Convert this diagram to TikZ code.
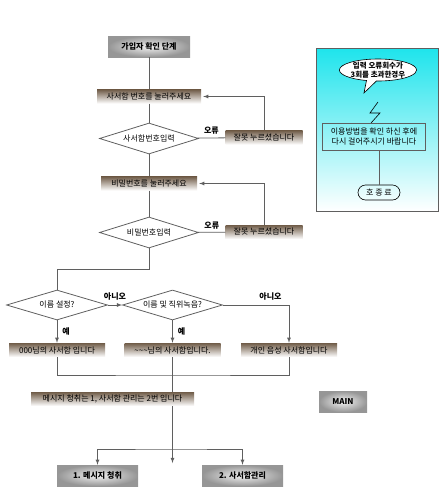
\documentclass[tikz,border=0pt]{standalone}
\usepackage{fontspec}
\setmainfont{Noto Sans CJK KR}
\usepackage{xcolor}
\usepackage{tikz}
\usetikzlibrary{shapes.geometric, shapes.misc, shapes.callouts, arrows, positioning, calc}
\definecolor{flowbrown}{RGB}{112,92,72}
\definecolor{flowmist}{RGB}{222,216,210}
\definecolor{flowgray}{RGB}{150,150,150}
\definecolor{flowlight}{RGB}{242,242,242}
\definecolor{flowline}{RGB}{95,95,95}
\definecolor{flowcyan}{RGB}{30,228,236}

\begin{document}
\begin{tikzpicture}[x=1pt,y=1pt,>=latex,
    font=\fontsize{8}{9.5}\selectfont,
    link/.style={draw=flowline,line width=0.8pt},
    prompt/.style={top color=flowbrown,middle color=flowmist,bottom color=white,minimum height=14pt,inner sep=0pt},
    stage/.style={inner color=flowlight,outer color=flowgray,minimum height=21pt,inner sep=0pt,font=\fontsize{8}{9.5}\selectfont\bfseries},
    check/.style={diamond,draw=flowline,line width=0.8pt,aspect=3,inner sep=0pt,minimum width=99pt,minimum height=31pt},
    tag/.style={font=\fontsize{8}{9.5}\selectfont\bfseries,inner sep=1pt}]

\useasboundingbox (0,0) rectangle (447,-491);

\node[stage,minimum width=82pt] (start) at (149,-46.5) {가입자 확인 단계};
\node[prompt,minimum width=104pt] (askbox) at (149,-96.5) {사서함 번호를 눌러주세요};
\node[check] (boxin) at (149,-138.5) {사서함번호입력};
\node[prompt,minimum width=77pt] (wrong1) at (264,-137.5) {잘못 누르셨습니다};
\node[prompt,minimum width=96pt] (askpw) at (149,-183.5) {비밀번호를 눌러주세요};
\node[check] (pwin) at (149,-232.5) {비밀번호입력};
\node[prompt,minimum width=77pt] (wrong2) at (264,-232) {잘못 누르셨습니다};

\node[check,minimum width=101pt,minimum height=30pt] (nameset) at (57,-305) {이름 설정?};
\node[check,minimum width=100pt,minimum height=30pt] (rectitle) at (172.5,-305) {이름 및 직위녹음?};
\node[prompt,minimum width=96pt] (ownbox) at (57,-350) {000님의 사서함 입니다};
\node[prompt,minimum width=96pt] (namebox) at (172.5,-350) {\textasciitilde\textasciitilde\textasciitilde 님의 사서함입니다.};
\node[prompt,minimum width=96pt] (voicebox) at (289,-350) {개인 음성 사서함입니다};
\node[prompt,minimum width=163pt] (menu) at (112.5,-399) {메시지 청취는 1, 사서함 관리는 2번 입니다};
\node[stage,minimum width=81pt] (listen) at (97.5,-475.5) {1. 메시지 청취};
\node[stage,minimum width=81pt] (manage) at (242.5,-475.5) {2. 사서함관리};
\node[stage,minimum width=48pt] (mainbox) at (343,-401.5) {MAIN};

\coordinate (merge) at (172.5,-375);
\coordinate (fork) at (172.5,-449);
\coordinate (drop) at (172.5,-463);

\draw[link] (start) -- (askbox);
\draw[link] (askbox) -- (boxin);
\draw[link] (boxin) -- (wrong1) node[tag,midway,above=2pt] {오류};
\draw[link,->,shorten >=2pt] (wrong1.north) |- (askbox.east);
\draw[link] (boxin) -- (askpw);
\draw[link] (askpw) -- (pwin);
\draw[link] (pwin) -- (wrong2) node[tag,midway,above=2pt] {오류};
\draw[link,->,shorten >=2pt] (wrong2.north) |- (askpw.east);
\draw[link] (pwin.south) -- ++(0,-20.5) -| (nameset.north);
\draw[link,->] (nameset) -- (rectitle) node[tag,midway,above=3pt] {아니오};
\draw[link,->] (rectitle.east) -| (voicebox.north) node[tag,pos=0.36,above=3pt] {아니오};
\draw[link,->] (nameset) -- (ownbox) node[tag,midway,right=4pt] {예};
\draw[link,->] (rectitle) -- (namebox) node[tag,midway,right=4pt] {예};
\draw[link] (ownbox.south) |- (merge) -| (voicebox.south);
\draw[link] (namebox.south) -- (merge);
\draw[link] (merge) -- (merge |- menu.north);
\draw[link,->] (merge |- menu.south) -- (drop);
\draw[link,<->] (listen.north) |- (fork) -| (manage.north);

\shadedraw[draw=flowline,top color=flowcyan,bottom color=white] (316,-48) rectangle (438,-211);
\node[ellipse callout,draw=black,fill=white,align=center,inner sep=0pt,line width=0.6pt,
    font=\fontsize{7.5}{8.5}\selectfont\bfseries,callout absolute pointer={(364,-93)}] (alert) at (378,-70) {입력 오류회수가\\3회를 초과한경우};
\draw[line width=0.6pt] (378,-102) -- (370,-113) -- (380,-113) -- (371,-123);
\node[draw=flowline,line width=0.6pt,align=center,inner sep=2pt,minimum width=103pt,minimum height=27pt] (advice) at (374,-136.5) {이용방법을 확인 하신 후에\\다시 걸어주시기 바랍니다};
\node[rounded rectangle,draw=black,line width=0.6pt,minimum width=44pt,minimum height=15pt,inner sep=1pt] (hangup) at (379,-192.5) {호 종 료};
\draw[link] (hangup.north) -- (hangup.north |- advice.south);
\end{tikzpicture}
\end{document}
